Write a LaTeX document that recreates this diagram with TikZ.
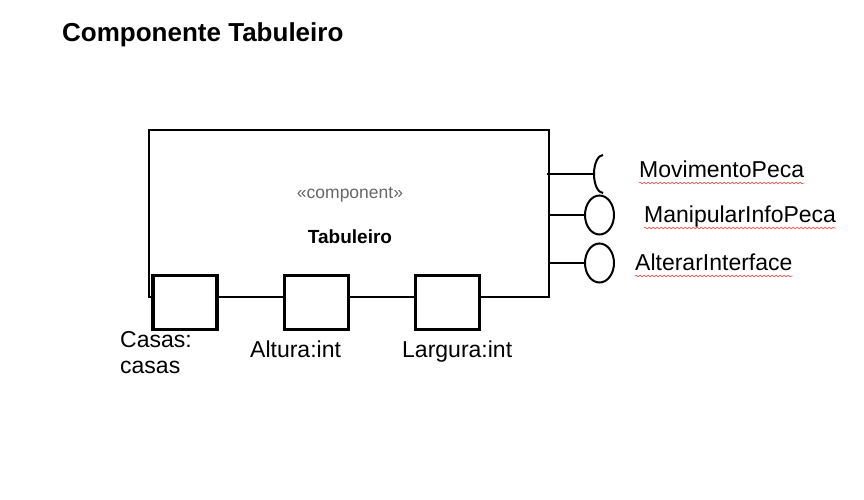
\documentclass[tikz,border=0pt]{standalone}
\usepackage{fontspec}
\setmainfont{Liberation Sans}
\usetikzlibrary{decorations.pathmorphing,shapes.geometric}

\begin{document}
\begin{tikzpicture}[x=1pt,y=-1pt]
% Styles
\tikzstyle{composant}=[draw,line width=2pt,inner sep=0pt]
\tikzstyle{port}=[draw,fill=white,line width=3.3pt,inner sep=0pt,minimum width=64pt,minimum height=54pt]
\tikzstyle{fournie}=[draw,fill=white,ellipse,line width=2pt,inner sep=0pt,minimum width=29pt,minimum height=39pt]
\tikzstyle{lien}=[line width=2pt]
\tikzstyle{etiquette}=[inner sep=0pt,font=\fontsize{23}{26}\selectfont]
\tikzstyle{souligne}=[red!80!white,line width=0.5pt,decorate,decoration={snake,segment length=4pt,amplitude=0.9pt}]
% Dimensions
\def\BordDroit{549}
\def\LigneA{174}
\def\LigneB{215}
\def\LigneC{263}
\useasboundingbox (0,0) rectangle (864,500);
% Titre
\node[inner sep=0pt,anchor=base west,font=\fontsize{26}{30}\selectfont\bfseries] (Titre) at (62,42) {Componente Tabuleiro};
% Composant
\node[composant,minimum width=400pt,minimum height=167pt] (Comp) at (349,213.5) {};
\node[inner sep=0pt,anchor=base,text=black!60,font=\fontsize{17.5}{20}\selectfont] (Stereo) at (350,198) {«component»};
\node[inner sep=0pt,anchor=base,font=\fontsize{19}{22}\selectfont\bfseries] (Nom) at (350,243) {Tabuleiro};
% Ports
\node[port] (PortCasas) at (185,302.5) {};
\node[port] (PortAltura) at (316.5,302.5) {};
\node[port] (PortLargura) at (447.5,302.5) {};
\node[etiquette,align=left,anchor=north west] (EtCasas) at (120,331.5) {Casas:\\casas};
\node[etiquette,anchor=base west] (EtAltura) at (250,357) {Altura:int};
\node[etiquette,anchor=base west] (EtLargura) at (402,357) {Largura:int};
% Interfaces
\coordinate (DepA) at (547,\LigneA);
\coordinate (DepB) at (\BordDroit,\LigneB);
\coordinate (DepC) at (\BordDroit,\LigneC);
\coordinate (Requise) at (594,\LigneA);
\node[fournie] (FournieB) at (599.5,\LigneB) {};
\node[fournie] (FournieC) at (599.5,\LigneC) {};
\draw[lien] (DepA)--(Requise);
\draw[lien] (603,193) arc[start angle=90,end angle=270,x radius=9,y radius=19];
\draw[lien] (DepB)--(FournieB.west);
\draw[lien] (DepC)--(FournieC.west);
\node[etiquette,anchor=base west] (EtA) at (639,177) {MovimentoPeca};
\node[etiquette,anchor=base west] (EtB) at (644,222) {ManipularInfoPeca};
\node[etiquette,anchor=base west] (EtC) at (635,270) {AlterarInterface};
% Soulignements
\draw[souligne] ([yshift=-6pt]EtA.base west)--([yshift=-6pt]EtA.base east);
\draw[souligne] ([yshift=-6pt]EtB.base west)--([yshift=-6pt]EtB.base east);
\draw[souligne] ([yshift=-6pt]EtC.base west)--([yshift=-6pt]EtC.base east);
\end{tikzpicture}
\end{document}
